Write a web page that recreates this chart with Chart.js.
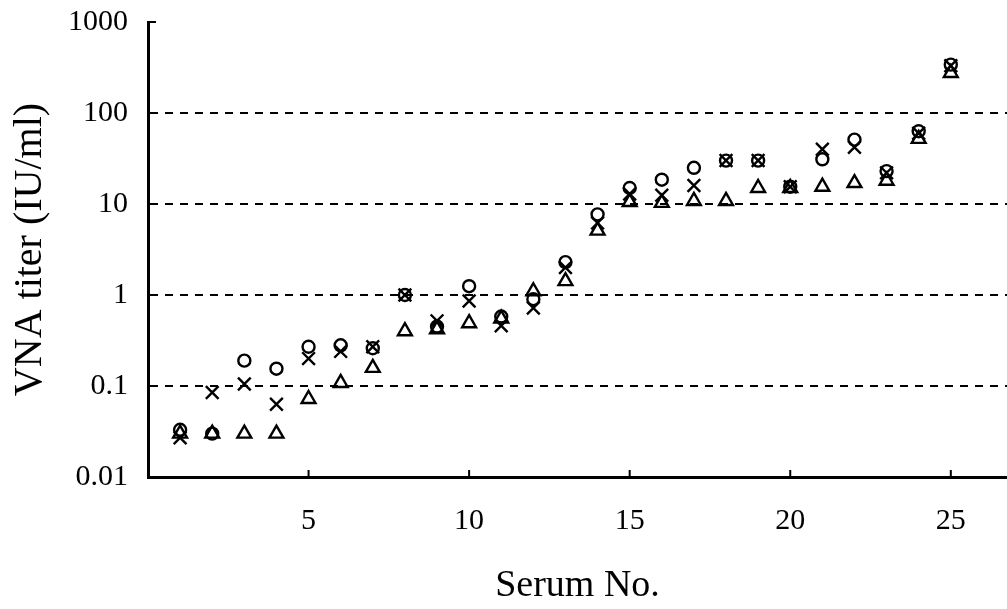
<!DOCTYPE html>
<html>
<head>
<meta charset="utf-8">
<style>
  html, body { margin: 0; padding: 0; background: #fff; }
  #chart { display: block; }
</style>
<script src="https://cdn.jsdelivr.net/npm/chart.js@4.4.1/dist/chart.umd.min.js"></script>
</head>
<body>
<canvas id="chart" width="1007" height="609"></canvas>
<script>
var serumNo = [1, 2, 3, 4, 5, 6, 7, 8, 9, 10, 11, 12, 13, 14, 15, 16, 17, 18, 19, 20, 21, 22, 23, 24, 25];
var circleTiter = [0.033, 0.03, 0.19, 0.155, 0.27, 0.28, 0.26, 1.0, 0.45, 1.25, 0.58, 0.9, 2.3, 7.7, 15, 18.5, 25, 30, 30, 15.5, 31, 51, 23, 63, 340];
var crossTiter = [0.027, 0.085, 0.105, 0.063, 0.2, 0.24, 0.27, 1.0, 0.52, 0.86, 0.46, 0.72, 2.0, 6.2, 12.9, 12.5, 16, 30, 30, 15.5, 40, 42, 22, 60, 330];
var triangleTiter = [0.03, 0.03, 0.03, 0.03, 0.072, 0.108, 0.158, 0.4, 0.42, 0.49, 0.55, 1.1, 1.42, 5.1, 10.5, 10.3, 10.8, 10.8, 15, 15, 15.5, 17, 18, 52, 275];
var yTicks = [0.01, 0.1, 1, 10, 100, 1000];
var xTicks = [5, 10, 15, 20, 25];

var toPoints = function(vals) {
    return serumNo.map(function(n, i) { return { x: n, y: vals[i] }; });
};

var serif = 'Liberation Serif, Times New Roman, serif';

// short inward tick marks on both axes
var innerTicks = {
    id: 'innerTicks',
    afterDraw: function(chart) {
        var ctx = chart.ctx;
        var xs = chart.scales.x, ys = chart.scales.y;
        var area = chart.chartArea;
        ctx.save();
        ctx.strokeStyle = '#000';
        ctx.lineWidth = 2;
        ctx.beginPath();
        yTicks.forEach(function(v) {
            var py = ys.getPixelForValue(v);
            ctx.moveTo(area.left, py);
            ctx.lineTo(area.left + 8, py);
        });
        xTicks.forEach(function(v) {
            var px = xs.getPixelForValue(v);
            ctx.moveTo(px, area.bottom);
            ctx.lineTo(px, area.bottom - 7);
        });
        ctx.stroke();
        ctx.restore();
    }
};

var ctx = document.getElementById('chart').getContext('2d');
var chart = new Chart(ctx, {
    type: 'scatter',
    data: {
        datasets: [{
            data: toPoints(circleTiter),
            pointStyle: 'circle',
            pointRadius: 6,
            borderColor: '#000',
            backgroundColor: 'rgba(0,0,0,0)',
            borderWidth: 2.4
        }, {
            data: toPoints(crossTiter),
            pointStyle: 'crossRot',
            pointRadius: 9,
            borderColor: '#000',
            backgroundColor: 'rgba(0,0,0,0)',
            borderWidth: 2.4
        }, {
            data: toPoints(triangleTiter),
            pointStyle: 'triangle',
            pointRadius: 8,
            borderColor: '#000',
            backgroundColor: 'rgba(0,0,0,0)',
            borderWidth: 2.4
        }]
    },
    options: {
        responsive: false,
        animation: false,
        devicePixelRatio: 1,
        layout: { autoPadding: false, padding: { top: 22, right: 0, left: 0, bottom: 0 } },
        plugins: {
            legend: { display: false },
            tooltip: { enabled: false }
        },
        scales: {
            x: {
                type: 'linear',
                min: 0,
                max: 26.75,
                afterBuildTicks: function(scale) {
                    scale.ticks = xTicks.map(function(v) { return { value: v }; });
                },
                afterFit: function(scale) {
                    scale.height = 132;
                    scale.paddingLeft = 0;
                    scale.paddingRight = 0;
                },
                grid: { display: false, drawTicks: false },
                border: { display: true, color: '#000', width: 3 },
                ticks: {
                    color: '#000',
                    padding: 26,
                    maxRotation: 0,
                    font: { family: serif, size: 30 }
                },
                title: {
                    display: true,
                    text: 'Serum No.',
                    color: '#000',
                    padding: { top: 0, bottom: 0 },
                    font: { family: serif, size: 38 }
                }
            },
            y: {
                type: 'logarithmic',
                min: 0.01,
                max: 1000,
                afterBuildTicks: function(scale) {
                    scale.ticks = yTicks.map(function(v) { return { value: v }; });
                },
                afterFit: function(scale) {
                    scale.width = 148;
                    scale.paddingTop = 0;
                    scale.paddingBottom = 0;
                },
                grid: {
                    drawTicks: false,
                    lineWidth: 2,
                    color: function(c) {
                        var v = c.tick && c.tick.value;
                        return (v === 0.01 || v === 1000) ? 'rgba(0,0,0,0)' : '#000';
                    }
                },
                border: { display: true, color: '#000', width: 3, dash: [8, 7] },
                ticks: {
                    color: '#000',
                    padding: 20,
                    font: { family: serif, size: 30 },
                    callback: function(v) { return String(v); }
                },
                title: {
                    display: true,
                    text: 'VNA titer (IU/ml)',
                    color: '#000',
                    padding: { top: 6, bottom: 0 },
                    font: { family: serif, size: 40 }
                }
            }
        }
    },
    plugins: [innerTicks]
});
</script>
</body>
</html>
